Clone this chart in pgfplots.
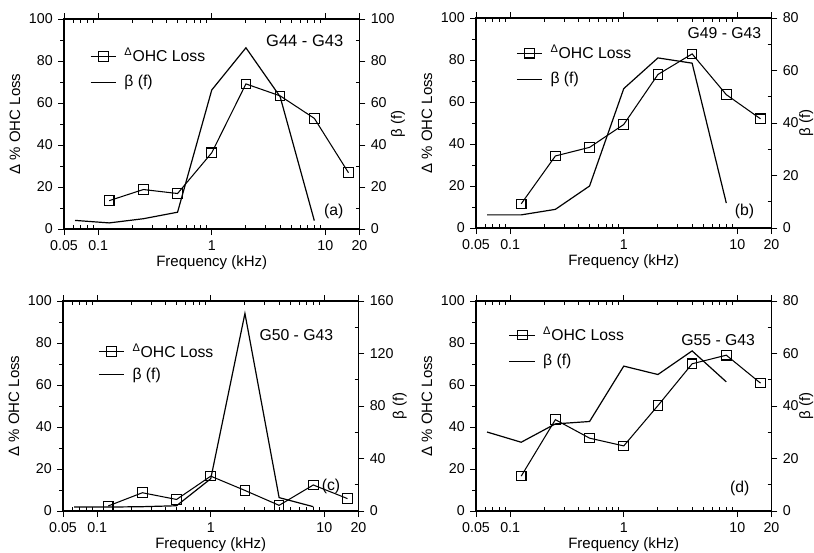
\documentclass[border=0pt]{standalone}
\usepackage{fontspec}
\setmainfont{Liberation Sans}
\usepackage{pgfplots}
\pgfplotsset{compat=1.18}
\tikzset{
 myOhc/.style={black, line width=0.7pt, mark=square, mark size=3.2pt, mark options={solid, fill=white, line width=0.7pt}},
 myBeta/.style={black, line width=0.8pt}
}
\pgfplotsset{
 myTicks/.style={tick align=outside, major tick length=4pt, minor tick length=-2.5pt,
   tick style={black, line width=0.6pt}, axis line style={line width=0.9pt},
   /pgf/number format/assume math mode=true,
   tick label style={font=\fontsize{9.5}{11}\selectfont}},
 myLabels/.style={
   xtick={0.05,0.1,1,10,20}, xticklabels={0.05,0.1,1,10,20},
   minor xtick={0.06,0.07,0.08,0.09,0.2,0.3,0.4,0.5,0.6,0.7,0.8,0.9,2,3,4,5,6,7,8,9},
   ytick={0,20,40,60,80,100}, minor ytick={10,30,50,70,90}, ytick pos=left,
   minor y tick style={xshift=-2.5pt},
   xlabel={Frequency (kHz)}, ylabel={Δ \% OHC Loss},
   xlabel style={at={(axis description cs:0.5,-0.158)}, anchor=center, font=\fontsize{10}{12}\selectfont},
   ylabel style={at={(axis description cs:-0.166,0.5)}, anchor=center, font=\fontsize{10}{12}\selectfont},
   legend cell align=left,
   legend style={draw=none, fill=none, anchor=north west, font=\fontsize{10.5}{12}\selectfont, row sep=3.5pt}},
 myRlab/.style={ylabel={β (f)},
   ylabel style={at={(axis description cs:#1,0.5)}, anchor=center, font=\fontsize{10}{12}\selectfont}},
}
\begin{document}
\begin{tikzpicture}
\path[use as bounding box] (0,0) rectangle (542.67pt,368pt);

% ---------- (a) ----------
\begin{axis}[scale only axis, width=197pt, height=140pt, xmode=log, xmin=0.05, xmax=20, ymin=0, ymax=100,
  myTicks, myLabels, at={(42.67pt,215.33pt)}, anchor=south west, legend style={at={(0.072,0.89)}}]
\addplot[myOhc] coordinates {(0.125,13.5)(0.25,18.8)(0.5,16.9)(1,36.3)(2,69.1)(4,63.4)(8,52.7)(16,26.8)};
\addlegendentry{\hspace{3pt}\textsuperscript{Δ}OHC Loss}
\addlegendimage{myBeta}
\addlegendentry{\hspace{3pt}β (f)}
\node[anchor=east, font=\fontsize{11}{13}\selectfont] at (axis description cs:0.963,0.895) {G44 - G43};
\node[anchor=east, font=\fontsize{10.5}{12}\selectfont] at (axis description cs:0.963,0.086) {(a)};
\end{axis}
\begin{axis}[scale only axis, width=197pt, height=140pt, xmode=log, xmin=0.05, xmax=20, ymin=0, ymax=100,
  myTicks, myRlab=1.13, hide x axis, axis y line*=right, at={(42.67pt,215.33pt)}, anchor=south west,
  ytick={0,20,40,60,80,100}, minor ytick={10,30,50,70,90}]
\addplot[myBeta] coordinates {(0.0625,4.1)(0.125,2.9)(0.25,4.9)(0.5,8)(1,66.2)(2,86.3)(4,63)(8,4)};
\end{axis}

% ---------- (b) ----------
\begin{axis}[scale only axis, width=197pt, height=140pt, xmode=log, xmin=0.05, xmax=20, ymin=0, ymax=100,
  myTicks, myLabels, at={(317.33pt,216pt)}, anchor=south west, legend style={at={(0.12,0.9)}}]
\addplot[myOhc] coordinates {(0.125,11.5)(0.25,34.3)(0.5,38.4)(1,49.3)(2,73.1)(4,82.9)(8,63.5)(16,52)};
\addlegendentry{\hspace{3pt}\textsuperscript{Δ}OHC Loss}
\addlegendimage{myBeta}
\addlegendentry{\hspace{3pt}β (f)}
\node[anchor=east, font=\fontsize{10.5}{12}\selectfont] at (axis description cs:0.983,0.929) {G49 - G43};
\node[anchor=east, font=\fontsize{10.5}{12}\selectfont] at (axis description cs:0.959,0.081) {(b)};
\end{axis}
\begin{axis}[scale only axis, width=197pt, height=140pt, xmode=log, xmin=0.05, xmax=20, ymin=0, ymax=80,
  myTicks, myRlab=1.118, hide x axis, axis y line*=right, at={(317.33pt,216pt)}, anchor=south west,
  ytick={0,20,40,60,80}, minor ytick={10,30,50,70}]
\addplot[myBeta] coordinates {(0.0625,5)(0.125,5)(0.25,7.1)(0.5,16)(1,53.1)(2,64.8)(4,62.8)(8,9.5)};
\end{axis}

% ---------- (c) ----------
\begin{axis}[scale only axis, width=197pt, height=140pt, xmode=log, xmin=0.05, xmax=20, ymin=0, ymax=100,
  myTicks, myLabels, at={(42pt,27.33pt)}, anchor=south west, legend style={at={(0.103,0.827)}, row sep=1.5pt}]
\addplot[myOhc] coordinates {(0.125,2.4)(0.25,8.7)(0.5,5.5)(1,16.6)(2,9.8)(4,2.7)(8,12.4)(16,5.9)};
\addlegendentry{\hspace{3pt}\textsuperscript{Δ}OHC Loss}
\addlegendimage{myBeta}
\addlegendentry{\hspace{3pt}β (f)}
\node[anchor=east, font=\fontsize{10.5}{12}\selectfont] at (axis description cs:0.932,0.838) {G50 - G43};
\node[anchor=east, font=\fontsize{10.5}{12}\selectfont] at (axis description cs:0.956,0.119) {(c)};
\end{axis}
\begin{axis}[scale only axis, width=197pt, height=140pt, xmode=log, xmin=0.05, xmax=20, ymin=0, ymax=160,
  myTicks, myRlab=1.14, hide x axis, axis y line*=right, at={(42pt,27.33pt)}, anchor=south west,
  ytick={0,40,80,120,160}, minor ytick={20,60,100,140}]
\addplot[myBeta] coordinates {(0.0625,3)(0.125,3)(0.25,3.3)(0.5,4)(1,24.6)(2,150.5)(4,10.2)(8,3.3)};
\end{axis}

% ---------- (d) ----------
\begin{axis}[scale only axis, width=197pt, height=140pt, xmode=log, xmin=0.05, xmax=20, ymin=0, ymax=100,
  myTicks, myLabels, at={(317.33pt,27.33pt)}, anchor=south west, legend style={at={(0.095,0.905)}}]
\addplot[myOhc] coordinates {(0.125,16.6)(0.25,43.5)(0.5,34.7)(1,31)(2,50.2)(4,70.1)(8,74.2)(16,60.9)};
\addlegendentry{\hspace{3pt}\textsuperscript{Δ}OHC Loss}
\addlegendimage{myBeta}
\addlegendentry{\hspace{3pt}β (f)}
\node[anchor=east, font=\fontsize{10.5}{12}\selectfont] at (axis description cs:0.962,0.815) {G55 - G43};
\node[anchor=east, font=\fontsize{10.5}{12}\selectfont] at (axis description cs:0.943,0.109) {(d)};
\end{axis}
\begin{axis}[scale only axis, width=197pt, height=140pt, xmode=log, xmin=0.05, xmax=20, ymin=0, ymax=80,
  myTicks, myRlab=1.118, hide x axis, axis y line*=right, at={(317.33pt,27.33pt)}, anchor=south west,
  ytick={0,20,40,60,80}, minor ytick={10,30,50,70}]
\addplot[myBeta] coordinates {(0.0625,30.1)(0.125,26.2)(0.25,33.2)(0.5,34.1)(1,55.2)(2,52)(4,61)(8,49.2)};
\end{axis}
\end{tikzpicture}
\end{document}
